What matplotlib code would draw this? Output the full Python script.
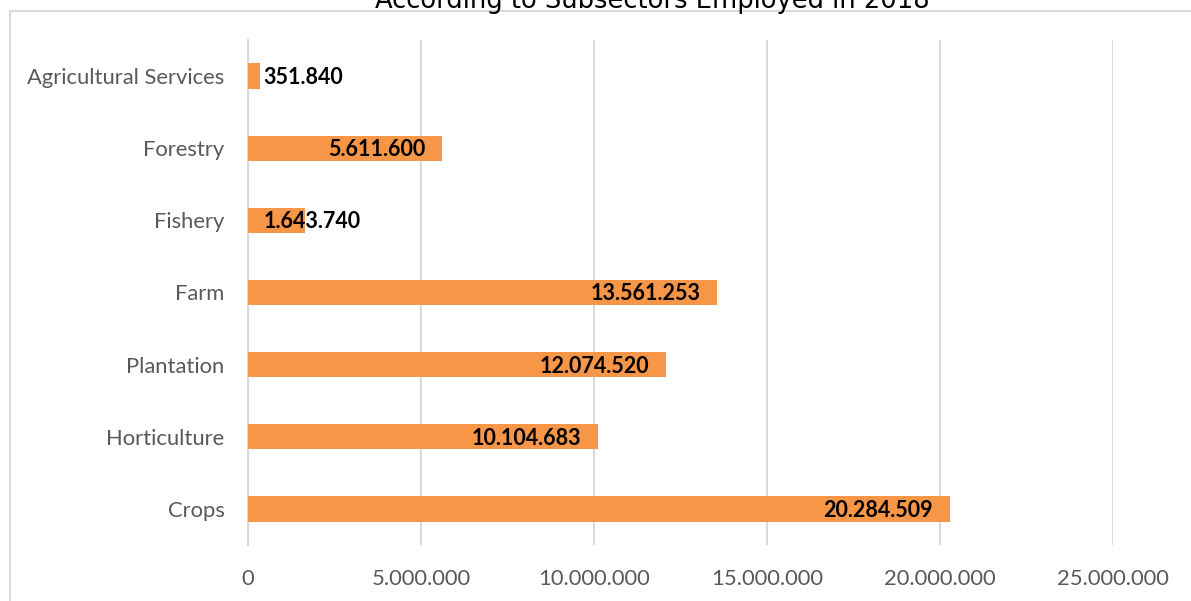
import matplotlib.pyplot as plt
from matplotlib.patches import Rectangle

# data
categories = ['Crops', 'Horticulture', 'Plantation', 'Farm', 'Fishery', 'Forestry', 'Agricultural Services']
values = [20284509, 10104683, 12074520, 13561253, 1643740, 5611600, 351840]
labels = ['20.284.509', '10.104.683', '12.074.520', '13.561.253', '1.643.740', '5.611.600', '351.840']
xticks = [0, 5000000, 10000000, 15000000, 20000000, 25000000]
xtick_labels = ['0', '5.000.000', '10.000.000', '15.000.000', '20.000.000', '25.000.000']

W, H = 1191, 601
fig = plt.figure(figsize=(W / 100, H / 100), dpi=100)
fig.patch.set_facecolor('white')

# chart area border (cut off at right and bottom)
fig.patches.append(Rectangle((9.5 / W, -0.05), 1.1, 1 - 11 / H + 0.05,
                             transform=fig.transFigure, fill=False,
                             edgecolor='#D9D9D9', linewidth=1.5))

ax = fig.add_axes([248 / W, 1 - 545 / H, (1113 - 248) / W, (545 - 40) / H])
ax.barh(range(len(categories)), values, height=0.35, color='#F79646', zorder=3)
ax.set_xlim(0, 25000000)
ax.set_ylim(-0.5, len(categories) - 0.5)

ax.set_xticks(xticks)
ax.set_xticklabels(xtick_labels)
ax.set_yticks(range(len(categories)))
ax.set_yticklabels(categories)
ax.tick_params(axis='both', length=0, labelsize=15.8, labelcolor='#595959', pad=17)
for t in ax.get_xticklabels() + ax.get_yticklabels():
    t.set_fontfamily('Lato')

ax.grid(axis='x', color='#D9D9D9', linewidth=1.5, zorder=0)
for s in ['top', 'right', 'bottom']:
    ax.spines[s].set_visible(False)
ax.spines['left'].set_color('#D9D9D9')
ax.spines['left'].set_linewidth(1.5)

for i, (v, lab) in enumerate(zip(values, labels)):
    if v > 3000000:
        ax.annotate(lab, (v, i), xytext=(-12, -1), textcoords='offset points',
                    ha='right', va='center', fontsize=15.5, fontweight='bold',
                    family='Lato', color='black', zorder=4)
    else:
        ax.annotate(lab, (0, i), xytext=(11, -1), textcoords='offset points',
                    ha='left', va='center', fontsize=15.5, fontweight='bold',
                    family='Lato', color='black', zorder=4)

fig.text(652 / W, 1 - 8 / H, 'According to Subsectors Employed in 2018',
         ha='center', va='baseline', fontsize=18.5, family='DejaVu Sans', color='black')

fig.savefig('out.png', dpi=100)
